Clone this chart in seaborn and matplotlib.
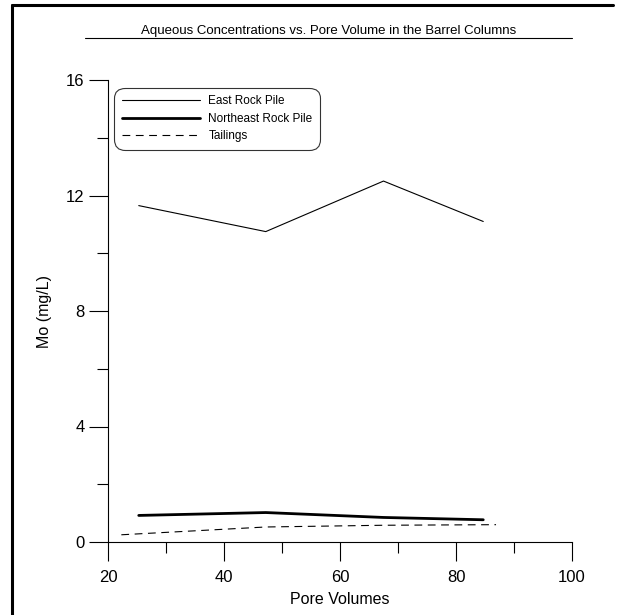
import matplotlib
matplotlib.use('Agg')
import matplotlib.pyplot as plt
from matplotlib.lines import Line2D
from matplotlib.ticker import MultipleLocator
import numpy as np
import pandas as pd
import seaborn as sns

# Data
east_pv = [25.3, 47.2, 67.5, 84.7]
east_mo = [11.65, 10.75, 12.5, 11.1]
ne_pv = [25.3, 47.2, 67.5, 84.7]
ne_mo = [0.92, 1.02, 0.85, 0.77]
tail_pv = [22.3, 47.2, 67.5, 86.9]
tail_mo = [0.25, 0.52, 0.58, 0.6]

series = ['East Rock Pile', 'Northeast Rock Pile', 'Tailings']

df = pd.concat([
    pd.DataFrame({'pv': east_pv, 'mo': east_mo, 'series': series[0]}),
    pd.DataFrame({'pv': ne_pv, 'mo': ne_mo, 'series': series[1]}),
    pd.DataFrame({'pv': tail_pv, 'mo': tail_mo, 'series': series[2]}),
])

sns.set_style('white')
plt.rcParams['font.family'] = ['Liberation Sans', 'DejaVu Sans']
plt.rcParams['text.color'] = 'black'
plt.rcParams['axes.labelcolor'] = 'black'
plt.rcParams['xtick.color'] = 'black'
plt.rcParams['ytick.color'] = 'black'

fig = plt.figure(figsize=(6.19, 6.15), dpi=100)
ax = fig.add_axes([108 / 619, 1 - 542 / 615, (572 - 108) / 619, (542 - 80) / 615])

styles = {'East Rock Pile': dict(lw=0.8, ls='-'),
          'Northeast Rock Pile': dict(lw=2.0, ls='-'),
          'Tailings': dict(lw=0.8, ls=(0, (7, 5)))}
for name in series:
    sub = df[df['series'] == name]
    sns.lineplot(data=sub, x='pv', y='mo', ax=ax, color='black', label=name,
                 linewidth=styles[name]['lw'], linestyle=styles[name]['ls'],
                 sort=False)

ax.set_xlim(20, 100)
ax.set_ylim(0, 16)
ax.xaxis.set_major_locator(MultipleLocator(20))
ax.xaxis.set_minor_locator(MultipleLocator(10))
ax.yaxis.set_major_locator(MultipleLocator(4))
ax.yaxis.set_minor_locator(MultipleLocator(2))
ax.tick_params(which='major', direction='out', length=14, width=0.8, color='black',
               labelsize=12, pad=3, bottom=True, left=True)
ax.tick_params(axis='x', which='major', pad=6)
ax.tick_params(which='minor', direction='out', length=8, width=0.8, color='black',
               bottom=True, left=True)
for s in ['top', 'right']:
    ax.spines[s].set_visible(False)
for s in ['left', 'bottom']:
    ax.spines[s].set_color('black')
    ax.spines[s].set_linewidth(0.8)

ax.set_xlabel('Pore Volumes', fontsize=11.5, labelpad=5)
ax.set_ylabel('Mo (mg/L)', fontsize=11.5, labelpad=10)

leg = ax.legend(loc='upper left', bbox_to_anchor=(0.019, 0.978), fontsize=8.5,
                handlelength=6.6, frameon=True, fancybox=True, borderpad=0.45,
                labelspacing=0.45, handletextpad=0.7, borderaxespad=0)
leg.get_frame().set_edgecolor('black')
leg.get_frame().set_linewidth(0.8)
leg.get_frame().set_boxstyle('round,pad=0.2,rounding_size=0.9')

# title with underline
fig.text(0.5 * (85 + 572) / 619, 1 - 31 / 615,
         'Aqueous Concentrations vs. Pore Volume in the Barrel Columns',
         ha='center', va='center', fontsize=9.5)
fig.add_artist(Line2D([85 / 619, 572 / 619], [1 - 38 / 615, 1 - 38 / 615],
                      color='black', lw=0.8, transform=fig.transFigure))

# outer frame lines (top and left)
fig.add_artist(Line2D([12 / 619, 613 / 619], [1 - 5 / 615, 1 - 5 / 615],
                      color='black', lw=2.2, transform=fig.transFigure))
fig.add_artist(Line2D([12 / 619, 12 / 619], [1 - 5 / 615, 0],
                      color='black', lw=2.2, transform=fig.transFigure))

fig.savefig('out.png', dpi=100)
